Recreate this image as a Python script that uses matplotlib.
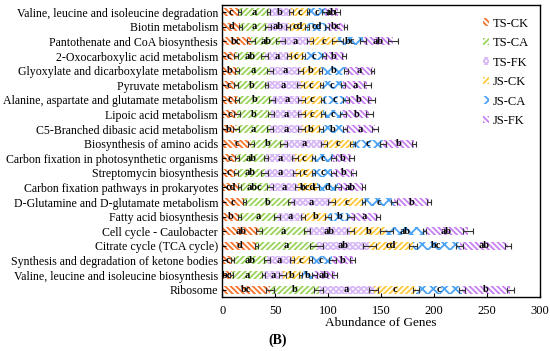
import matplotlib.pyplot as plt
import numpy as np

plt.rcParams['font.family'] = ['Liberation Serif', 'DejaVu Serif']
plt.rcParams['hatch.linewidth'] = 1.3

categories = [
    "Valine, leucine and isoleucine degradation",
    "Biotin metabolism",
    "Pantothenate and CoA biosynthesis",
    "2-Oxocarboxylic acid metabolism",
    "Glyoxylate and dicarboxylate metabolism",
    "Pyruvate metabolism",
    "Alanine, aspartate and glutamate metabolism",
    "Lipoic acid metabolism",
    "C5-Branched dibasic acid metabolism",
    "Biosynthesis of amino acids",
    "Carbon fixation in photosynthetic organisms",
    "Streptomycin biosynthesis",
    "Carbon fixation pathways in prokaryotes",
    "D-Glutamine and D-glutamate metabolism",
    "Fatty acid biosynthesis",
    "Cell cycle - Caulobacter",
    "Citrate cycle (TCA cycle)",
    "Synthesis and degradation of ketone bodies",
    "Valine, leucine and isoleucine biosynthesis",
    "Ribosome",
]

series = ["TS-CK", "TS-CA", "TS-FK", "JS-CK", "JS-CA", "JS-FK"]

ts_ck = [16, 17, 27, 13, 14, 13, 14, 14, 13, 27, 14, 13, 16, 21, 16, 35, 32, 10, 9, 45]
ts_ca = [28, 26, 28, 27, 31, 29, 33, 32, 32, 31, 27, 27, 29, 44, 36, 45, 57, 32, 30, 46]
ts_fk = [21, 19, 28, 23, 29, 32, 28, 29, 30, 38, 28, 30, 27, 38, 24, 41, 50, 24, 18, 52]
js_ck = [16, 18, 26, 14, 19, 20, 20, 20, 18, 27, 17, 16, 17, 30, 24, 34, 41, 17, 17, 40]
js_ca = [16, 19, 24, 19, 24, 20, 22, 19, 23, 29, 19, 19, 20, 29, 21, 36, 44, 21, 13, 43]
js_fk = [12, 17, 28, 19, 25, 23, 24, 25, 28, 29, 17, 19, 24, 33, 26, 41, 46, 19, 19, 46]

ts_ck_err = [1.5, 1.5, 4, 1.5, 1.5, 1.5, 1.5, 3, 3, 3, 1.5, 1.5, 1.5, 1.5, 1.5, 3, 1.5, 1.5, 1.5, 4]
ts_ca_err = [1.5, 3, 4, 3, 3, 1.5, 3, 3, 3, 3, 2, 3, 3, 3, 3, 3, 6, 3, 1.5, 4]
ts_fk_err = [2, 2, 3, 2, 2, 3, 3, 3, 3, 3, 3, 3, 3, 3, 2, 3, 6, 2, 3, 4]
js_ck_err = [1, 1.5, 5, 1.5, 1.5, 1.5, 1.5, 2, 2, 2, 1.5, 1.5, 2, 1.5, 3, 6, 4, 1.5, 1.5, 3]
js_ca_err = [2.5, 2, 3, 2, 2, 2, 3, 3, 2, 3, 2, 2, 3, 3, 3, 1.5, 3, 3, 2, 3]
js_fk_err = [2.5, 1.5, 5, 1.5, 1.5, 3, 3, 3, 3, 2, 2, 2, 1.5, 2, 2, 5, 3, 2, 2, 3]

ts_ck_lab = ["c", "d", "bc", "c", "b", "c", "c", "c", "b", "c", "c", "c", "cd", "c", "b", "ab", "d", "c", "bc", "bc"]
ts_ca_lab = ["a", "a", "ab", "ab", "a", "b", "b", "b", "a", "b", "ab", "ab", "abc", "b", "a", "a", "a", "ab", "a", "b"]
ts_fk_lab = ["b", "ab", "a", "a", "a", "a", "a", "a", "a", "a", "a", "a", "a", "a", "a", "ab", "ab", "a", "a", "a"]
js_ck_lab = ["c", "cd", "c", "c", "b", "c", "c", "c", "b", "c", "c", "c", "bcd", "c", "b", "b", "cd", "c", "b", "c"]
js_ca_lab = ["c", "cd", "bc", "c", "b", "c", "c", "c", "b", "c", "c", "c", "d", "c", "b", "ab", "bc", "c", "b", "c"]
js_fk_lab = ["ab", "bc", "ab", "b", "a", "a", "b", "b", "a", "b", "b", "b", "ab", "b", "a", "ab", "ab", "b", "ab", "b"]

values = [ts_ck, ts_ca, ts_fk, js_ck, js_ca, js_fk]
errors = [ts_ck_err, ts_ca_err, ts_fk_err, js_ck_err, js_ca_err, js_fk_err]
labels = [ts_ck_lab, ts_ca_lab, ts_fk_lab, js_ck_lab, js_ca_lab, js_fk_lab]

colors = ["#f7742c", "#9bd35a", "#d9b8f7", "#ffc93c", "#4da3f5", "#c77ff2"]
hatches = ["\\\\\\\\\\\\", "//////", "xxxxxx", "//////", "xxx", "\\\\\\\\\\\\"]

fig = plt.figure(figsize=(5.5, 3.51), dpi=100)
ax = fig.add_axes([0.404, 0.154, 0.578, 0.832])

y = np.arange(len(categories))
left = np.zeros(len(categories))
for vals, errs, labs, col, hat, name in zip(values, errors, labels, colors, hatches, series):
    vals = np.array(vals, dtype=float)
    ax.barh(y, vals, left=left, height=0.55, color="white", edgecolor=col,
            hatch=hat, linewidth=0, label=name)
    ax.errorbar(left + vals, y, xerr=errs, fmt="none", ecolor="#333333",
                elinewidth=0.8, capsize=2, capthick=0.8)
    for yi, l, v, t in zip(y, left, vals, labs):
        ax.text(l + v / 2, yi, t, ha="center", va="center", fontsize=7.5,
                fontweight="bold", color="black")
    left = left + vals

ax.set_xlim(0, 300)
ax.set_ylim(19.5, -0.5)
ax.set_yticks(y)
ax.set_yticklabels(categories, fontsize=8.6)
ax.set_xticks([0, 50, 100, 150, 200, 250, 300])
ax.tick_params(axis="x", direction="in", labelsize=9, length=3, pad=6)
ax.tick_params(axis="y", direction="in", length=3, pad=3)
ax.set_xlabel("Abundance of Genes", fontsize=9.5, labelpad=0)
for s in ax.spines.values():
    s.set_linewidth(1.0)

ax.legend(loc="upper right", bbox_to_anchor=(1.0, 0.995), frameon=False,
          fontsize=9, handlelength=0.5, handleheight=0.55, handletextpad=0.3,
          labelspacing=0.6)

fig.text(0.505, 0.03, "(B)", ha="center", va="center", fontsize=10, fontweight="bold")

fig.savefig("out.png", dpi=100)
